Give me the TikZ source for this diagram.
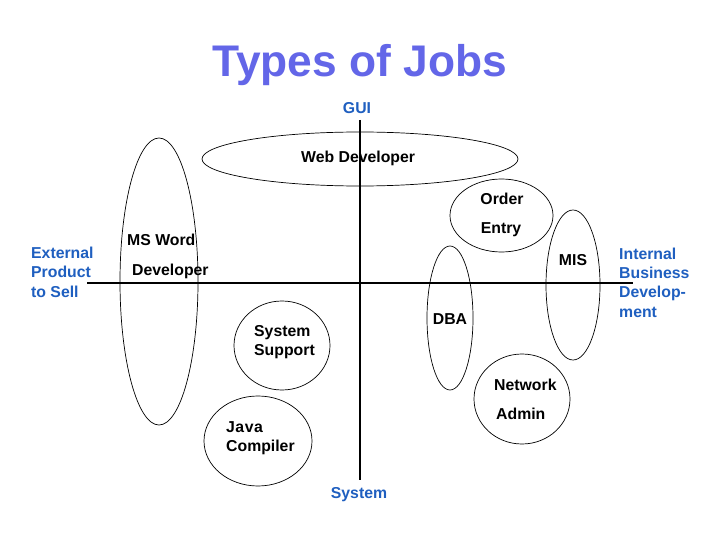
\documentclass[tikz,border=0pt]{standalone}
\usepackage{fontspec}
\setmainfont{Liberation Sans}
\usetikzlibrary{shapes.geometric}
\definecolor{titleblue}{RGB}{99,102,232}
\definecolor{labelblue}{RGB}{31,95,192}
\tikzset{
  oval/.style={draw=black, line width=0.7pt, ellipse, inner sep=0pt},
  lbl/.style={font=\fontsize{15.8}{19}\selectfont\bfseries, text=labelblue, inner sep=0pt},
  job/.style={font=\fontsize{15.8}{19}\selectfont\bfseries, text=black, inner sep=0pt},
  axis/.style={draw=black, line width=1.1pt}
}
\begin{document}
\begin{tikzpicture}[x=1pt,y=-1pt]
\useasboundingbox[fill=white] (0,0) rectangle (720,540);
% title
\node[anchor=base, font=\fontsize{44.3}{50}\selectfont\bfseries, text=titleblue, inner sep=0pt] (title) at (359.5,77) {Types of Jobs};
% axes
\coordinate (top) at (360,120);
\coordinate (bot) at (360,480);
\coordinate (lft) at (87,283);
\coordinate (rgt) at (633,283);
\draw[axis] (top) -- (bot);
\draw[axis] (lft) -- (rgt);
% axis labels
\node[lbl, anchor=base] (gui) at (357,113.5) {GUI};
\node[lbl, anchor=base] (sys) at (359,498.5) {System};
\node[lbl, anchor=base west] (ext1) at (31,258.5) {External};
\node[lbl, anchor=base west] (ext2) at (31,277.5) {Product};
\node[lbl, anchor=base west] (ext3) at (31,297) {to Sell};
\node[lbl, anchor=base west] (int1) at (619,259.5) {Internal};
\node[lbl, anchor=base west] (int2) at (619,278.5) {Business};
\node[lbl, anchor=base west] (int3) at (619,297.5) {Develop-};
\node[lbl, anchor=base west] (int4) at (619,317.5) {ment};
% ovals
\node[oval, minimum width=316pt, minimum height=54pt] (web) at (360,159) {};
\node[oval, minimum width=78pt, minimum height=287pt] (msw) at (159,281.5) {};
\node[oval, minimum width=103pt, minimum height=73pt] (ord) at (501.5,215.5) {};
\node[oval, minimum width=54pt, minimum height=150pt] (mis) at (573,285) {};
\node[oval, minimum width=46pt, minimum height=144pt] (dba) at (450,318) {};
\node[oval, minimum width=96pt, minimum height=89pt] (ssp) at (282,345.5) {};
\node[oval, minimum width=108pt, minimum height=90pt] (jav) at (258,441) {};
\node[oval, minimum width=96pt, minimum height=90pt] (net) at (522,399) {};
% job labels
\node[job, anchor=base west] (webt) at (301,162.5) {Web Developer};
\node[job, anchor=base] (ordt1) at (502,204.5) {Order};
\node[job, anchor=base] (ordt2) at (501,233.5) {Entry};
\node[job, anchor=base west] (mswt1) at (127,245.5) {MS Word};
\node[job, anchor=base west] (mswt2) at (132,275.5) {Developer};
\node[job, anchor=base] (mist) at (573,265.5) {MIS};
\node[job, anchor=base] (dbat) at (450,324.5) {DBA};
\node[job, anchor=base west] (sspt1) at (254,336.5) {System};
\node[job, anchor=base west] (sspt2) at (254,355.5) {Support};
\node[job, anchor=base west] (nett1) at (494,390.5) {Network};
\node[job, anchor=base west] (nett2) at (496,419.5) {Admin};
\node[job, anchor=base west] (javt1) at (226,432.5) {J\kern0.5pt a\kern0.5pt v\kern0.5pt a};
\node[job, anchor=base west] (javt2) at (226,451.5) {Compiler};
\end{tikzpicture}
\end{document}
